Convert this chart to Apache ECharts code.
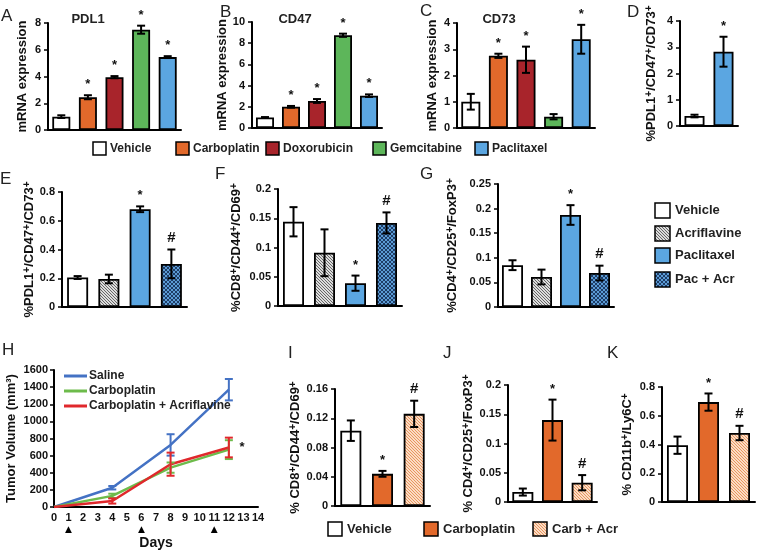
<!DOCTYPE html>
<html><head><meta charset="utf-8">
<script src="https://cdn.jsdelivr.net/npm/echarts@6/dist/echarts.min.js"></script>
<style>html,body{margin:0;padding:0;background:#fff}#c{width:757px;height:552px}</style>
</head><body><div id="c"></div>
<script>
// ---------------- DATA ----------------
const topCats = ['Vehicle', 'Carboplatin', 'Doxorubicin', 'Gemcitabine', 'Paclitaxel'];
const pdl1Mean = [1.0, 2.45, 3.95, 7.5, 5.45];
const pdl1Err  = [0.1, 0.15, 0.08, 0.3, 0.07];
const pdl1Sig  = ['', '*', '*', '*', '*'];
const cd47Mean = [1.0, 2.0, 2.55, 8.75, 3.05];
const cd47Err  = [0.03, 0.08, 0.18, 0.15, 0.12];
const cd47Sig  = ['', '*', '*', '*', '*'];
const cd73Mean = [1.0, 2.75, 2.6, 0.43, 3.38];
const cd73Err  = [0.3, 0.08, 0.5, 0.1, 0.55];
const cd73Sig  = ['', '*', '*', '', '*'];

const dCats = ['Vehicle', 'Paclitaxel'];
const dMean = [0.38, 2.83];
const dErr  = [0.05, 0.57];
const dSig  = ['', '*'];

const acrCats = ['Vehicle', 'Acriflavine', 'Paclitaxel', 'Pac + Acr'];
const eMean = [0.205, 0.195, 0.68, 0.30];
const eErr  = [0.01, 0.03, 0.02, 0.10];
const fMean = [0.144, 0.091, 0.039, 0.142];
const fErr  = [0.025, 0.04, 0.013, 0.018];
const gMean = [0.085, 0.061, 0.187, 0.069];
const gErr  = [0.01, 0.015, 0.02, 0.015];
const acrSig = ['', '', '*', '#'];

const days = [0, 4, 8, 12];
const salineVol   = [0, 225, 725, 1370];
const salineErr   = [0, 20, 125, 125];
const carboVol    = [0, 130, 460, 670];
const carboErr    = [0, 25, 60, 110];
const carboAcrVol = [0, 70, 500, 695];
const carboAcrErr = [0, 30, 135, 115];
const treatDays = [1, 6, 11];
const hStar = [12.9, 700];

const carbCats = ['Vehicle', 'Carboplatin', 'Carb + Acr'];
const iMean = [0.103, 0.044, 0.126];
const iErr  = [0.014, 0.004, 0.018];
const jMean = [0.017, 0.140, 0.033];
const jErr  = [0.006, 0.035, 0.013];
const kMean = [0.395, 0.695, 0.48];
const kErr  = [0.06, 0.06, 0.05];
const carbSig = ['', '*', '#'];

// ---------------- STYLE ----------------
const FONT = "'Liberation Sans', Arial, sans-serif";
function hatch(bg, fg, dirs, step, lw) {
  const c = document.createElement('canvas');
  c.width = c.height = step;
  const g = c.getContext('2d');
  g.fillStyle = bg; g.fillRect(0, 0, step, step);
  g.strokeStyle = fg; g.lineWidth = lw || 1;
  dirs.forEach(d => {
    for (let k = -step; k <= step; k += step) {
      g.beginPath();
      if (d === '\\') { g.moveTo(k, 0); g.lineTo(k + step, step); }
      else { g.moveTo(k + step, 0); g.lineTo(k, step); }
      g.stroke();
    }
  });
  return { image: c, repeat: 'repeat' };
}
const FILL = {
  'Vehicle': '#ffffff',
  'Carboplatin': '#E2692B',
  'Doxorubicin': '#A8242B',
  'Gemcitabine': '#5DB65A',
  'Paclitaxel': '#5BA6E1',
  'Acriflavine': hatch('#dcdcdc', '#666666', ['\\'], 3, 1),
  'Pac + Acr': hatch('#5b9bd5', '#1e3d66', ['\\', '/'], 4, 1),
  'Carb + Acr': hatch('#fbdcc4', '#e8955f', ['\\'], 3, 1)
};
const LINE_COL = { 'Saline': '#4472C4', 'Carboplatin': '#6DBB4B', 'Carboplatin + Acriflavine': '#E0282C' };

const nameMRNA = '{a|mRNA expression}';
const nameTriple = '{a|%PDL1}{s|+}{a|/CD47}{s|+}{a|/CD73}{s|+}';
const nameCD8 = '{a|%CD8}{s|+}{a|/CD44}{s|+}{a|/CD69}{s|+}';
const nameCD4 = '{a|%CD4}{s|+}{a|/CD25}{s|+}{a|/FoxP3}{s|+}';
const nameCD8s = '{a|% CD8}{s|+}{a|/CD44}{s|+}{a|/CD69}{s|+}';
const nameCD4s = '{a|% CD4}{s|+}{a|/CD25}{s|+}{a|/FoxP3}{s|+}';
const nameMDSC = '{a|% CD11b}{s|+}{a|/Ly6C}{s|+}';
const nameVol = '{a|Tumor Volume (mm³)}';

const panels = [
  { box: [48, 23, 133, 107], cats: topCats, mean: pdl1Mean, err: pdl1Err, sig: pdl1Sig, max: 8, step: 2, name: nameMRNA, gap: 19, barW: 18 },
  { box: [252, 22, 130, 106], cats: topCats, mean: cd47Mean, err: cd47Err, sig: cd47Sig, max: 10, step: 2, name: nameMRNA, gap: 23, barW: 18 },
  { box: [457, 23, 138, 105], cats: topCats, mean: cd73Mean, err: cd73Err, sig: cd73Sig, max: 4, step: 1, name: nameMRNA, gap: 18, barW: 19 },
  { box: [680, 21, 58, 105], cats: dCats, mean: dMean, err: dErr, sig: dSig, max: 4, step: 1, name: nameTriple, gap: 22, barW: 20 },
  { box: [62, 192, 125, 115], cats: acrCats, mean: eMean, err: eErr, sig: acrSig, max: 0.8, step: 0.2, name: nameTriple, gap: 25, barW: 21 },
  { box: [278, 189, 124, 117], cats: acrCats, mean: fMean, err: fErr, sig: acrSig, max: 0.2, step: 0.05, name: nameCD8, gap: 35, barW: 21 },
  { box: [498, 184, 116, 123], cats: acrCats, mean: gMean, err: gErr, sig: acrSig, max: 0.25, step: 0.05, name: nameCD4, gap: 39, barW: 21 },
  { box: [335, 389, 95, 117], cats: carbCats, mean: iMean, err: iErr, sig: carbSig, max: 0.16, step: 0.04, name: nameCD8s, gap: 33, barW: 21 },
  { box: [508, 385, 89, 117], cats: carbCats, mean: jMean, err: jErr, sig: carbSig, max: 0.2, step: 0.05, name: nameCD4s, gap: 33, barW: 21 },
  { box: [662, 387, 93, 115], cats: carbCats, mean: kMean, err: kErr, sig: carbSig, max: 0.8, step: 0.2, name: nameMDSC, gap: 28, barW: 21 }
];

const nameStyle = {
  color: '#111',
  rich: {
    a: { fontFamily: FONT, fontWeight: 'bold', fontSize: 13, lineHeight: 14, verticalAlign: 'bottom', color: '#111' },
    s: { fontFamily: FONT, fontWeight: 'bold', fontSize: 10, lineHeight: 10, verticalAlign: 'top', color: '#111' }
  }
};
function yAxisCfg(i, max, step, name, gap) {
  return {
    gridIndex: i, type: 'value', min: 0, max: max, interval: step,
    axisLine: { show: true, lineStyle: { color: '#000', width: 2 } },
    axisTick: { show: true, length: 4, lineStyle: { color: '#000', width: 1.5 } },
    axisLabel: { fontFamily: FONT, fontWeight: 'bold', fontSize: 11, color: '#111', margin: 7, formatter: v => String(+v.toFixed(4)) },
    splitLine: { show: false },
    name: name, nameLocation: 'middle', nameGap: gap, nameRotate: 90, nameTextStyle: nameStyle
  };
}
function errSeries(i, pts, sig, color, cap) {
  return {
    type: 'custom', xAxisIndex: i, yAxisIndex: i, z: 10, silent: true, animation: false, clip: false,
    data: pts,
    renderItem(params, api) {
      const x = api.value(0), m = api.value(1), e = api.value(2);
      const top = api.coord([x, m + e]);
      const bot = api.coord([x, m - e]);
      const w = cap || 4;
      const st = { stroke: color, lineWidth: 2 };
      const ch = [];
      if (e > 0) {
        ch.push({ type: 'line', shape: { x1: top[0], y1: top[1], x2: bot[0], y2: bot[1] }, style: st });
        ch.push({ type: 'line', shape: { x1: top[0] - w, y1: top[1], x2: top[0] + w, y2: top[1] }, style: st });
        ch.push({ type: 'line', shape: { x1: bot[0] - w, y1: bot[1], x2: bot[0] + w, y2: bot[1] }, style: st });
      }
      const mk = sig ? sig[params.dataIndex] : '';
      if (mk) {
        ch.push({ type: 'text', style: { text: mk, x: top[0], y: top[1] - 4, align: 'center', verticalAlign: 'bottom',
          font: (mk === '#' ? 'bold 15px ' : 'bold 13px ') + FONT, fill: '#111' } });
      }
      return { type: 'group', children: ch };
    }
  };
}

const grids = [], xAxes = [], yAxes = [], series = [];
panels.forEach((p, i) => {
  grids.push({ left: p.box[0], top: p.box[1], width: p.box[2], height: p.box[3], containLabel: false, outerBoundsMode: 'none' });
  xAxes.push({ gridIndex: i, type: 'category', data: p.cats,
    axisLine: { show: true, lineStyle: { color: '#000', width: 2 } }, axisTick: { show: false }, axisLabel: { show: false }, splitLine: { show: false } });
  yAxes.push(yAxisCfg(i, p.max, p.step, p.name, p.gap));
  series.push({ type: 'bar', xAxisIndex: i, yAxisIndex: i, barWidth: p.barW, silent: true, animation: false,
    itemStyle: { borderColor: '#000', borderWidth: 1.8 },
    data: p.mean.map((v, k) => ({ value: v, itemStyle: { color: FILL[p.cats[k]] } })) });
  series.push(errSeries(i, p.mean.map((v, k) => [k, v, p.err[k]]), p.sig, '#000', 4));
});

// Panel H (line chart)
const h = panels.length;
grids.push({ left: 54, top: 370, width: 204, height: 137, containLabel: false, outerBoundsMode: 'none' });
xAxes.push({ gridIndex: h, type: 'value', min: 0, max: 14, interval: 1,
  axisLine: { show: true, lineStyle: { color: '#000', width: 2 } }, axisTick: { show: false }, splitLine: { show: false },
  axisLabel: { fontFamily: FONT, fontWeight: 'bold', fontSize: 11, color: '#111', margin: 5, lineHeight: 12,
    formatter: v => treatDays.indexOf(v) >= 0 ? v + '\n{t|▲}' : String(v),
    rich: { t: { fontFamily: "'DejaVu Sans'", fontSize: 9, lineHeight: 11, color: '#000' } } },
  name: 'Days', nameLocation: 'middle', nameGap: 29, nameTextStyle: { fontFamily: FONT, fontWeight: 'bold', fontSize: 14, color: '#111' } });
yAxes.push(Object.assign(yAxisCfg(h, 1600, 200, nameVol, 36), {
  axisLabel: { fontFamily: FONT, fontWeight: 'bold', fontSize: 11, color: '#111', margin: 6, formatter: v => String(v) } }));
const lines = [
  ['Saline', salineVol, salineErr],
  ['Carboplatin', carboVol, carboErr],
  ['Carboplatin + Acriflavine', carboAcrVol, carboAcrErr]
];
lines.forEach(([nm, vol]) => {
  series.push({ type: 'line', name: nm, xAxisIndex: h, yAxisIndex: h, symbol: 'none', animation: false, silent: true,
    lineStyle: { width: 2.5, color: LINE_COL[nm] }, itemStyle: { color: LINE_COL[nm] },
    data: days.map((d, k) => [d, vol[k]]) });
});
lines.forEach(([nm, vol, err]) => {
  series.push(errSeries(h, days.map((d, k) => [d, vol[k], err[k]]), null, LINE_COL[nm], 4));
});
series.push({ type: 'custom', xAxisIndex: h, yAxisIndex: h, silent: true, animation: false, clip: false, z: 11,
  data: [hStar],
  renderItem(params, api) {
    const p = api.coord([api.value(0), api.value(1)]);
    return { type: 'text', style: { text: '*', x: p[0], y: p[1], align: 'center', verticalAlign: 'middle', font: 'bold 13px ' + FONT, fill: '#111' } };
  } });

// ---------------- GRAPHIC: letters, titles, legends ----------------
const gfx = [];
function txt(t, x, y, font, align) {
  gfx.push({ type: 'text', silent: true, style: { text: t, x: x, y: y, font: font, fill: '#222', align: align || 'left', verticalAlign: 'middle' } });
}
const letterFont = '17px ' + FONT;
[['A', 1, 16], ['B', 220, 12], ['C', 420, 11], ['D', 627, 12], ['E', 0, 179], ['F', 215, 174], ['G', 420, 174],
 ['H', 2, 350], ['I', 288, 353], ['J', 443, 353], ['K', 607, 353]].forEach(([t, x, y]) => txt(t, x, y, letterFont));
txt('PDL1', 88, 19, 'bold 13px ' + FONT, 'center');
txt('CD47', 295, 19, 'bold 13px ' + FONT, 'center');
txt('CD73', 499, 19, 'bold 13px ' + FONT, 'center');

function legendBox(name, bx, by, size, tx, fs) {
  gfx.push({ type: 'rect', silent: true, shape: { x: bx, y: by, width: size, height: size },
    style: { fill: FILL[name], stroke: '#000', lineWidth: 1.5 } });
  txt(name, tx, by + size / 2, 'bold ' + fs + 'px ' + FONT);
}
const topLegendX = [93, 176, 266, 373, 475];
topCats.forEach((n, k) => legendBox(n, topLegendX[k], 142, 13, topLegendX[k] + 17, 12));
const midLegendY = [203, 226, 248, 272];
acrCats.forEach((n, k) => legendBox(n, 655, midLegendY[k], 15, 675, 13));
const botLegendX = [328, 424, 533];
carbCats.forEach((n, k) => legendBox(n, botLegendX[k], 522, 14, botLegendX[k] + 19, 13));

const option = {
  backgroundColor: '#fff',
  animation: false,
  grid: grids, xAxis: xAxes, yAxis: yAxes, series: series,
  legend: { left: 59, top: 364, orient: 'vertical', icon: 'rect', itemWidth: 23, itemHeight: 3, itemGap: 1,
    textStyle: { fontFamily: FONT, fontWeight: 'bold', fontSize: 12, color: '#222', lineHeight: 14, padding: [0, 0, 0, -3] },
    data: lines.map(l => l[0]), selectedMode: false },
  graphic: gfx
};
const chart = echarts.init(document.getElementById('c'), null, { renderer: 'canvas' });
chart.setOption(option);
</script></body></html>
